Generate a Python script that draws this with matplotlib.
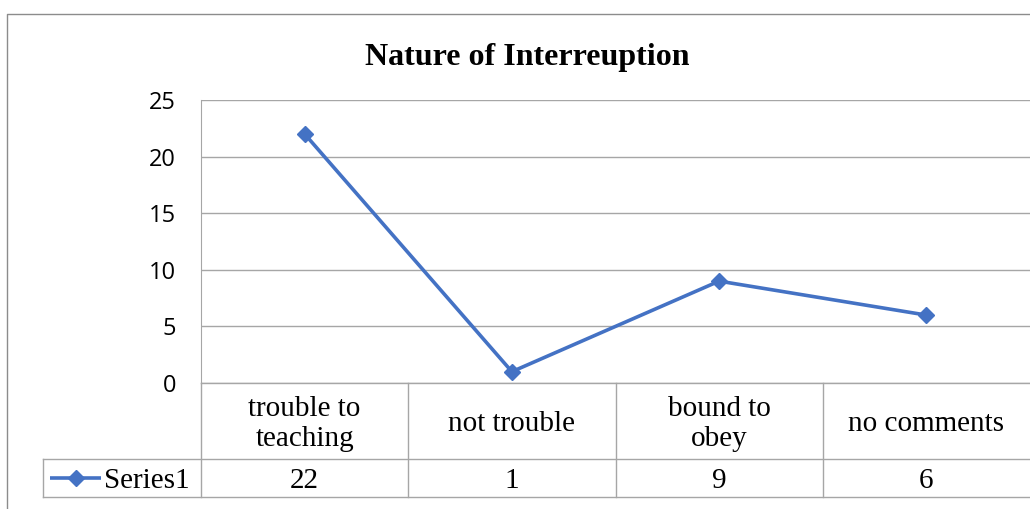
import matplotlib.pyplot as plt
from matplotlib.lines import Line2D

categories = ["trouble to\nteaching", "not trouble", "bound to\nobey", "no comments"]
values = [22, 1, 9, 6]
series_name = "Series1"
yticks = [0, 5, 10, 15, 20, 25]

W, H = 1030, 509
blue = "#4472C4"
grid = "#a6a6a6"
serif = ["Liberation Serif", "DejaVu Serif"]

fig = plt.figure(figsize=(W / 100, H / 100), dpi=100)

def fx(px):
    return px / W

def fy(py):
    return 1 - py / H

ax = fig.add_axes([fx(201), fy(383), fx(1030) - fx(201), fy(100) - fy(383)])
n = len(categories)
xs = [i + 0.5 for i in range(n)]
ax.plot(xs, values, color=blue, lw=2.6, marker="D", ms=8, clip_on=False, zorder=3)
ax.set_xlim(0, n)
ax.set_ylim(0, 25)
ax.set_yticks(yticks)
ax.set_yticklabels([str(t) for t in yticks], family="Open Sans", fontsize=17)
ax.tick_params(axis="y", length=0, pad=18)
ax.set_xticks([])
for s in ["top", "right", "bottom"]:
    ax.spines[s].set_visible(False)
ax.spines["left"].set_color(grid)
ax.grid(axis="y", color=grid, lw=1)
ax.set_axisbelow(True)

# data table under the plot
def hline(y, x0, x1):
    fig.add_artist(Line2D([fx(x0), fx(x1)], [fy(y), fy(y)], color=grid, lw=1))

def vline(x, y0, y1):
    fig.add_artist(Line2D([fx(x), fx(x)], [fy(y0), fy(y1)], color=grid, lw=1))

col_w = (1030 - 201) / n
hline(383, 201, 1030)
hline(459, 43, 1030)
hline(497, 43, 1030)
vline(43, 459, 497)
vline(201, 383, 497)
for i in range(1, n):
    vline(201 + i * col_w, 383, 497)

for i, (c, v) in enumerate(zip(categories, values)):
    cx = 201 + (i + 0.5) * col_w
    fig.text(fx(cx), fy(424), c, ha="center", va="center", family=serif,
             fontsize=21, linespacing=1.2)
    fig.text(fx(cx), fy(481), str(v), ha="center", va="center", family=serif, fontsize=21)

fig.add_artist(Line2D([fx(50), fx(101)], [fy(478), fy(478)], color=blue, lw=2.6,
                      solid_capstyle="butt"))
fig.add_artist(Line2D([fx(76)], [fy(478)], color=blue, marker="D", ms=8, lw=0))
fig.text(fx(104), fy(481), series_name, ha="left", va="center", family=serif, fontsize=21)

# outer chart frame
fig.add_artist(Line2D([fx(7), fx(7), fx(1030)], [fy(509), fy(14), fy(14)], color="#8c8c8c", lw=1))

fig.text(fx(527), fy(57), "Nature of Interreuption", ha="center", va="center",
         family=serif, fontsize=23, fontweight="bold")

fig.savefig("out.png", dpi=100)
